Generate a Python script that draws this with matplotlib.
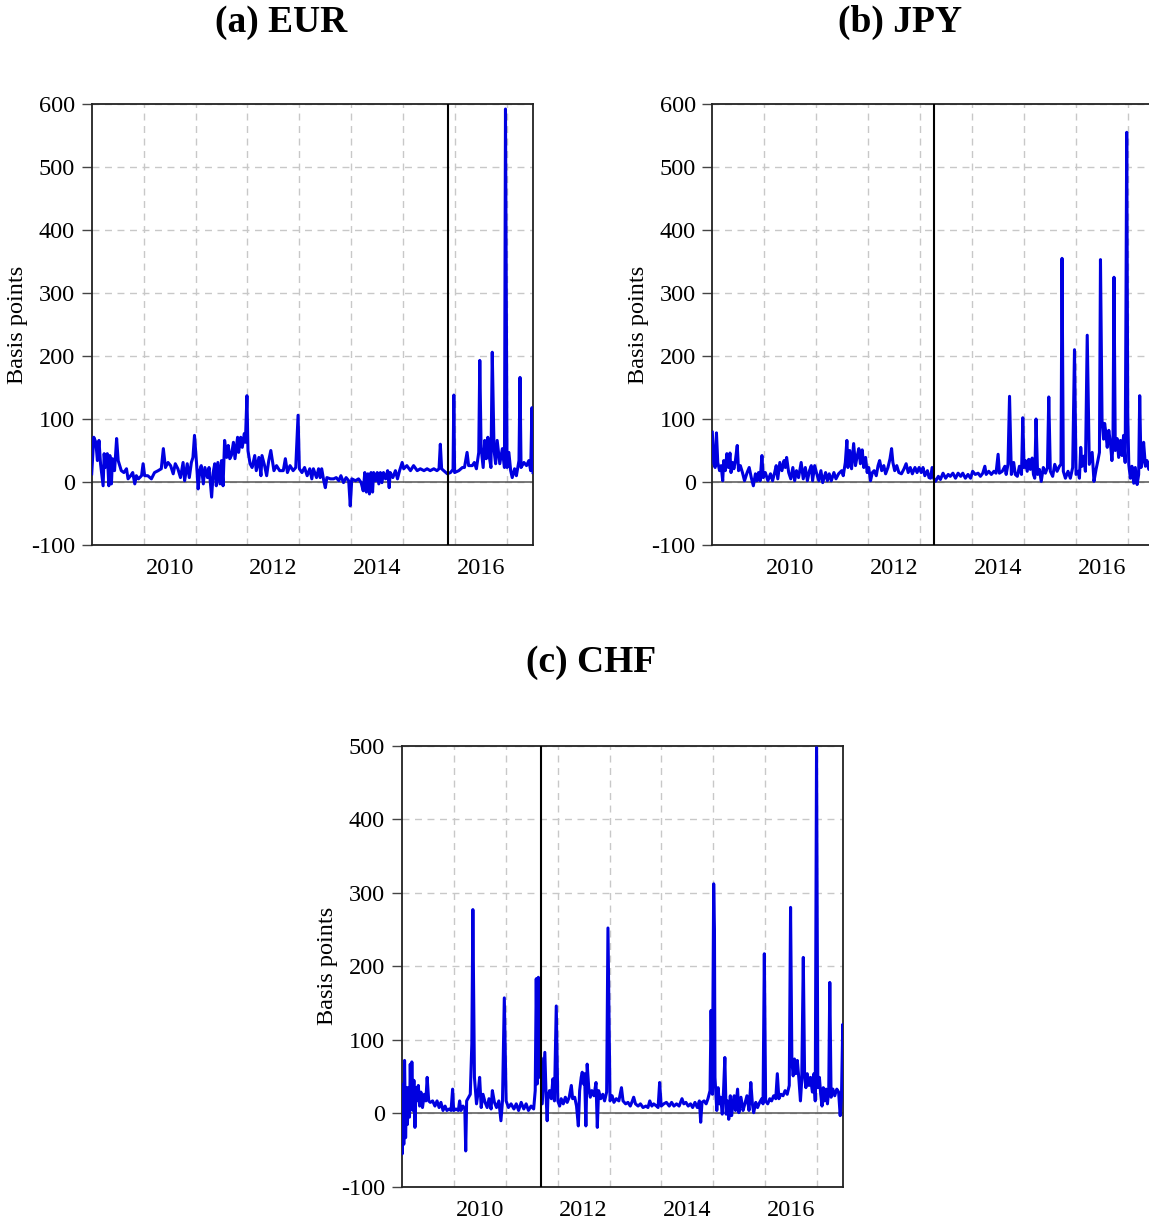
import numpy as np
import matplotlib
matplotlib.use("Agg")
import matplotlib.pyplot as plt
from matplotlib.ticker import FixedLocator, NullFormatter, FixedFormatter

plt.rcParams['font.family'] = ['Liberation Serif', 'DejaVu Serif']
plt.rcParams['axes.unicode_minus'] = False

# cross-currency basis, (decimal year, basis points)
eur = [
    (2009.00, 13), (2009.04, 71), (2009.08, 63), (2009.11, 34), (2009.14, 66), (2009.17, 29),
    (2009.22, -6), (2009.24, 45), (2009.26, 23), (2009.30, 45), (2009.33, -6), (2009.35, 42),
    (2009.38, -3), (2009.40, 37), (2009.44, 18), (2009.48, 69), (2009.51, 34), (2009.54, 26),
    (2009.57, 18), (2009.62, 15), (2009.67, 21), (2009.70, 5), (2009.75, 10), (2009.79, 15),
    (2009.83, -3), (2009.86, 10), (2009.90, 5), (2009.96, 10), (2009.99, 29), (2010.02, 10),
    (2010.08, 10), (2010.15, 5), (2010.21, 15), (2010.28, 18), (2010.34, 21), (2010.38, 53),
    (2010.42, 23), (2010.47, 31), (2010.52, 26), (2010.57, 13), (2010.61, 29), (2010.66, 21),
    (2010.71, 7), (2010.76, 31), (2010.79, 2), (2010.84, 29), (2010.88, 7), (2010.92, 31),
    (2010.95, 39), (2010.98, 74), (2011.02, 29), (2011.05, -11), (2011.08, 18), (2011.11, 26),
    (2011.15, -3), (2011.18, 23), (2011.23, 7), (2011.26, 23), (2011.31, -24), (2011.34, 15),
    (2011.37, 29), (2011.40, -6), (2011.43, 31), (2011.47, -3), (2011.50, 34), (2011.53, -6),
    (2011.56, 66), (2011.60, 39), (2011.63, 58), (2011.66, 37), (2011.69, 42), (2011.73, 63),
    (2011.76, 37), (2011.81, 71), (2011.83, 47), (2011.87, 71), (2011.90, 55), (2011.94, 77),
    (2011.96, 63), (2011.99, 137), (2012.01, 50), (2012.05, 29), (2012.09, 23), (2012.14, 42),
    (2012.17, 18), (2012.22, 39), (2012.26, 10), (2012.28, 42), (2012.33, 26), (2012.37, 10),
    (2012.41, 34), (2012.45, 50), (2012.48, 34), (2012.51, 18), (2012.56, 26), (2012.62, 18),
    (2012.69, 18), (2012.73, 37), (2012.77, 15), (2012.82, 26), (2012.88, 18), (2012.93, 23),
    (2012.975, 106), (2013.00, 21), (2013.05, 15), (2013.10, 23), (2013.15, 10), (2013.20, 21),
    (2013.24, 5), (2013.27, 21), (2013.33, 7), (2013.37, 21), (2013.40, 7), (2013.43, 21),
    (2013.47, 2), (2013.50, -9), (2013.53, 7), (2013.60, 5), (2013.66, 5), (2013.71, 7),
    (2013.76, 2), (2013.80, 10), (2013.85, -1), (2013.90, 7), (2013.95, 2), (2013.98, -38),
    (2014.01, 5), (2014.08, 2), (2014.14, 5), (2014.19, -1), (2014.23, -14), (2014.26, 15),
    (2014.29, -16), (2014.32, 13), (2014.35, -19), (2014.38, 15), (2014.41, -16), (2014.43, 15),
    (2014.47, 2), (2014.50, 15), (2014.53, -3), (2014.56, 15), (2014.59, -1), (2014.62, 15),
    (2014.66, 5), (2014.70, 18), (2014.73, -9), (2014.75, 15), (2014.80, 7), (2014.85, 18),
    (2014.89, 5), (2014.93, 18), (2014.98, 31), (2015.01, 21), (2015.07, 26), (2015.14, 18),
    (2015.20, 26), (2015.27, 18), (2015.33, 21), (2015.40, 18), (2015.46, 21), (2015.52, 18),
    (2015.59, 21), (2015.65, 18), (2015.69, 21), (2015.715, 60), (2015.74, 21), (2015.78, 18),
    (2015.85, 13), (2015.91, 15), (2015.96, 20), (2015.975, 138), (2015.99, 15), (2016.07, 18),
    (2016.14, 23), (2016.18, 23), (2016.23, 47), (2016.26, 26), (2016.33, 26), (2016.37, 31),
    (2016.41, 21), (2016.455, 47), (2016.475, 193), (2016.50, 55), (2016.54, 23), (2016.57, 66),
    (2016.60, 37), (2016.63, 71), (2016.66, 39), (2016.69, 23), (2016.715, 206), (2016.75, 50),
    (2016.78, 29), (2016.81, 66), (2016.86, 29), (2016.91, 53), (2016.95, 23), (2016.97, 592),
    (2017.00, 23), (2017.035, 47), (2017.07, 18), (2017.10, 7), (2017.145, 21), (2017.18, 10),
    (2017.23, 34), (2017.25, 166), (2017.27, 23), (2017.325, 31), (2017.375, 26), (2017.42, 34),
    (2017.455, 18), (2017.48, 118), (2017.50, 15),
]

jpy = [
    (2009.00, 79), (2009.03, 29), (2009.055, 23), (2009.08, 78), (2009.105, 31), (2009.14, 18),
    (2009.17, 26), (2009.20, 2), (2009.22, 34), (2009.25, 18), (2009.28, 45), (2009.31, 23),
    (2009.34, 46), (2009.36, 15), (2009.39, 31), (2009.415, 21), (2009.44, 31), (2009.48, 58),
    (2009.505, 18), (2009.54, 26), (2009.58, 15), (2009.62, 2), (2009.67, 15), (2009.71, 23),
    (2009.75, 7), (2009.79, -6), (2009.83, 13), (2009.86, 2), (2009.89, 15), (2009.92, 2),
    (2009.955, 42), (2009.98, 7), (2010.02, 15), (2010.07, 2), (2010.12, 13), (2010.16, 2),
    (2010.20, 15), (2010.23, 26), (2010.26, 5), (2010.30, 31), (2010.34, 18), (2010.38, 34),
    (2010.405, 23), (2010.43, 39), (2010.47, 15), (2010.51, 5), (2010.55, 23), (2010.585, 2),
    (2010.62, 18), (2010.66, 7), (2010.71, 31), (2010.75, 5), (2010.79, 23), (2010.83, 2),
    (2010.87, 18), (2010.905, 26), (2010.93, 2), (2010.97, 26), (2011.01, 13), (2011.05, 2),
    (2011.09, 18), (2011.125, -1), (2011.18, 15), (2011.215, 2), (2011.25, 13), (2011.29, 2),
    (2011.34, 15), (2011.38, 5), (2011.43, 13), (2011.49, 18), (2011.52, 10), (2011.56, 31),
    (2011.59, 66), (2011.61, 23), (2011.645, 50), (2011.68, 21), (2011.72, 61), (2011.755, 26),
    (2011.79, 42), (2011.82, 53), (2011.85, 29), (2011.885, 51), (2011.915, 23), (2011.95, 39),
    (2011.98, 15), (2012.01, 23), (2012.045, 2), (2012.08, 15), (2012.115, 18), (2012.155, 10),
    (2012.19, 26), (2012.22, 34), (2012.26, 18), (2012.30, 26), (2012.335, 13), (2012.38, 23),
    (2012.42, 37), (2012.45, 53), (2012.475, 31), (2012.51, 18), (2012.55, 26), (2012.59, 15),
    (2012.64, 13), (2012.69, 21), (2012.73, 29), (2012.77, 15), (2012.81, 23), (2012.85, 13),
    (2012.90, 23), (2012.94, 15), (2012.98, 23), (2013.02, 15), (2013.055, 23), (2013.09, 10),
    (2013.14, 18), (2013.17, 7), (2013.20, 6), (2013.23, 23), (2013.26, 6), (2013.295, 1),
    (2013.35, 9), (2013.39, 4), (2013.44, 14), (2013.49, 6), (2013.54, 12), (2013.58, 9),
    (2013.63, 14), (2013.68, 6), (2013.73, 14), (2013.78, 9), (2013.82, 14), (2013.87, 6),
    (2013.92, 12), (2013.97, 6), (2014.01, 17), (2014.06, 12), (2014.115, 14), (2014.16, 9),
    (2014.205, 14), (2014.245, 25), (2014.27, 12), (2014.32, 17), (2014.37, 12), (2014.42, 17),
    (2014.46, 14), (2014.50, 44), (2014.525, 14), (2014.58, 17), (2014.63, 25), (2014.655, 12),
    (2014.69, 28), (2014.72, 136), (2014.755, 12), (2014.80, 31), (2014.83, 12), (2014.87, 9),
    (2014.91, 25), (2014.95, 12), (2014.975, 102), (2015.00, 23), (2015.025, 34), (2015.06, 17),
    (2015.09, 36), (2015.12, 20), (2015.155, 38), (2015.18, 12), (2015.205, 6), (2015.23, 100),
    (2015.26, 12), (2015.295, 20), (2015.33, 1), (2015.37, 23), (2015.41, 14), (2015.45, 23),
    (2015.475, 135), (2015.505, 17), (2015.55, 9), (2015.59, 28), (2015.635, 17), (2015.68, 25),
    (2015.71, 28), (2015.73, 355), (2015.755, 17), (2015.795, 6), (2015.845, 17), (2015.89, 6),
    (2015.935, 23), (2015.97, 210), (2016.00, 12), (2016.04, 17), (2016.065, 6), (2016.09, 55),
    (2016.115, 25), (2016.15, 41), (2016.18, 17), (2016.215, 233), (2016.255, 28), (2016.31, 47),
    (2016.345, 1), (2016.385, 20), (2016.42, 34), (2016.45, 47), (2016.47, 353), (2016.50, 98),
    (2016.53, 68), (2016.55, 93), (2016.575, 77), (2016.60, 55), (2016.63, 82), (2016.66, 63),
    (2016.69, 34), (2016.71, 58), (2016.73, 325), (2016.755, 50), (2016.79, 69), (2016.82, 39),
    (2016.855, 66), (2016.885, 42), (2016.915, 74), (2016.945, 31), (2016.96, 270), (2016.975, 555),
    (2016.995, 105), (2017.015, 28), (2017.045, 6), (2017.075, 25), (2017.11, -2), (2017.14, 23),
    (2017.175, -4), (2017.205, 12), (2017.225, 137), (2017.25, 23), (2017.28, 34), (2017.30, 63),
    (2017.335, 25), (2017.365, 34), (2017.40, 20), (2017.45, 28), (2017.50, 22),
]

chf = [
    (2009.00, 35), (2009.01, -55), (2009.03, 40), (2009.04, -42), (2009.055, 72), (2009.075, -33),
    (2009.095, 35), (2009.11, -15), (2009.13, 35), (2009.15, -5), (2009.165, 67), (2009.18, 8),
    (2009.195, 70), (2009.215, 4), (2009.235, 45), (2009.255, -19), (2009.275, 35), (2009.29, 17),
    (2009.32, 38), (2009.345, 10), (2009.37, 29), (2009.40, 8), (2009.435, 26), (2009.465, 17),
    (2009.49, 49), (2009.52, 17), (2009.55, 15), (2009.595, 17), (2009.64, 10), (2009.68, 17),
    (2009.72, 8), (2009.755, 15), (2009.795, 4), (2009.835, 10), (2009.87, 4), (2009.915, 6),
    (2009.95, 4), (2009.98, 33), (2010.00, 4), (2010.045, 6), (2010.09, 4), (2010.115, 17),
    (2010.14, 4), (2010.18, 10), (2010.215, 6), (2010.232, -51), (2010.25, 17), (2010.29, 22),
    (2010.32, 26), (2010.35, 95), (2010.37, 277), (2010.40, 49), (2010.44, 13), (2010.475, 31),
    (2010.50, 49), (2010.53, 8), (2010.565, 26), (2010.605, 15), (2010.645, 8), (2010.68, 20),
    (2010.72, 6), (2010.745, 31), (2010.785, 15), (2010.825, 8), (2010.87, 17), (2010.91, -10),
    (2010.94, 17), (2010.975, 157), (2011.01, 17), (2011.055, 8), (2011.105, 13), (2011.16, 6),
    (2011.205, 13), (2011.25, 4), (2011.30, 15), (2011.35, 6), (2011.395, 13), (2011.44, 4),
    (2011.49, 10), (2011.54, 6), (2011.57, 31), (2011.59, 183), (2011.61, 40), (2011.63, 185),
    (2011.66, 49), (2011.68, 76), (2011.705, 13), (2011.73, 49), (2011.755, 83), (2011.78, 22),
    (2011.80, -10), (2011.815, 22), (2011.845, 31), (2011.88, 20), (2011.91, 47), (2011.94, 17),
    (2011.975, 146), (2012.005, 17), (2012.04, 10), (2012.07, 20), (2012.11, 13), (2012.15, 22),
    (2012.185, 15), (2012.225, 22), (2012.265, 38), (2012.29, 20), (2012.33, 22), (2012.365, 10),
    (2012.40, -17), (2012.425, 31), (2012.455, 49), (2012.475, 56), (2012.50, 40), (2012.52, 54),
    (2012.545, -17), (2012.57, 67), (2012.60, 35), (2012.63, 22), (2012.66, 31), (2012.70, 24),
    (2012.74, 42), (2012.765, -19), (2012.79, 31), (2012.83, 20), (2012.87, 26), (2012.905, 17),
    (2012.945, 29), (2012.97, 252), (2013.01, 17), (2013.05, 24), (2013.085, 15), (2013.13, 20),
    (2013.18, 17), (2013.23, 35), (2013.26, 17), (2013.31, 13), (2013.355, 15), (2013.40, 10),
    (2013.44, 17), (2013.465, 22), (2013.50, 13), (2013.55, 10), (2013.595, 13), (2013.645, 8),
    (2013.70, 10), (2013.74, 8), (2013.775, 17), (2013.815, 10), (2013.85, 13), (2013.905, 10),
    (2013.935, 8), (2013.965, 42), (2013.995, 10), (2014.045, 13), (2014.095, 15), (2014.15, 10),
    (2014.195, 15), (2014.24, 10), (2014.29, 13), (2014.34, 10), (2014.395, 20), (2014.43, 13),
    (2014.47, 15), (2014.515, 10), (2014.56, 13), (2014.60, 8), (2014.645, 15), (2014.69, 8),
    (2014.73, 17), (2014.755, -12), (2014.78, 15), (2014.82, 17), (2014.86, 13), (2014.895, 20),
    (2014.935, 31), (2014.955, 140), (2014.98, 26), (2015.005, 312), (2015.02, 250), (2015.03, 49),
    (2015.065, 4), (2015.09, 35), (2015.115, 13), (2015.14, 22), (2015.17, -1), (2015.195, 31),
    (2015.22, 76), (2015.245, -1), (2015.27, 17), (2015.295, -8), (2015.325, 24), (2015.35, -3),
    (2015.375, 13), (2015.40, 24), (2015.425, 4), (2015.465, 33), (2015.49, 1), (2015.53, 22),
    (2015.57, 4), (2015.605, 13), (2015.645, 24), (2015.685, 4), (2015.72, 42), (2015.75, 13),
    (2015.775, 1), (2015.815, 15), (2015.85, 8), (2015.89, 15), (2015.93, 20), (2015.955, 13),
    (2015.98, 217), (2016.005, 17), (2016.045, 13), (2016.085, 20), (2016.12, 17), (2016.16, 24),
    (2016.20, 20), (2016.23, 54), (2016.26, 20), (2016.30, 26), (2016.34, 24), (2016.38, 31),
    (2016.42, 26), (2016.46, 38), (2016.485, 280), (2016.51, 72), (2016.535, 51), (2016.56, 74),
    (2016.585, 54), (2016.615, 72), (2016.645, 47), (2016.675, 17), (2016.70, 45), (2016.73, 212),
    (2016.755, 51), (2016.78, 35), (2016.805, 54), (2016.84, 38), (2016.87, 49), (2016.905, 29),
    (2016.935, 54), (2016.96, 17), (2016.985, 497), (2017.01, 35), (2017.04, 49), (2017.065, 26),
    (2017.09, 10), (2017.115, 35), (2017.14, 17), (2017.17, 33), (2017.195, 13), (2017.22, 33),
    (2017.24, 178), (2017.265, 22), (2017.30, 33), (2017.335, 24), (2017.375, 33), (2017.41, 29),
    (2017.44, -3), (2017.465, 22), (2017.49, 121), (2017.50, 31),
]

# policy dates marked with a vertical line
eur_event = 2015.86
jpy_event = 2013.27
chf_event = 2011.69

year_grid = list(range(2010, 2018))
year_labels = ['2010', '2012', '2014', '2016']
W, H = 1149, 1220


def panel(rect, series, event, ymax, title, title_x, title_y):
    ax = fig.add_axes([rect[0] / W, 1 - rect[3] / H,
                       (rect[2] - rect[0]) / W, (rect[3] - rect[1]) / H])
    t, v = np.array(series, dtype=float).T
    ax.plot(t, v, color='#0000e0', lw=2.2, zorder=3)
    ax.axhline(0, color='#555555', lw=1.1, zorder=2)
    ax.axvline(event, color='black', lw=1.5, zorder=4)
    ax.set_xlim(2009.0, 2017.5)
    ax.set_ylim(-100, ymax)

    ax.xaxis.set_major_locator(FixedLocator(year_grid))
    ax.xaxis.set_major_formatter(NullFormatter())
    ax.xaxis.set_minor_locator(FixedLocator([int(y) + 0.5 for y in year_labels]))
    ax.xaxis.set_minor_formatter(FixedFormatter(year_labels))
    ax.tick_params(axis='x', which='major', length=0)
    ax.tick_params(axis='x', which='minor', length=0, pad=9, labelsize=17.5)
    yt = list(range(-100, ymax + 1, 100))
    ax.set_yticks(yt)
    ax.set_yticklabels([str(y) for y in yt])
    ax.tick_params(axis='y', length=7, width=1.0, color='#444444', pad=5, labelsize=17.5)

    ax.grid(True, which='major', color='#c8c8c8', lw=1.0, ls=(0, (5, 4)), zorder=1)
    for s in ax.spines.values():
        s.set_linewidth(1.3)
        s.set_color('#222222')

    fig.text((rect[0] - 73.7) / W, 1 - (rect[1] + rect[3]) / 2 / H, 'Basis points',
             rotation=90, ha='center', va='center', fontsize=17.5)
    fig.text(title_x / W, 1 - title_y / H, title, ha='center', va='center',
             fontsize=27, fontweight='bold')
    return ax


fig = plt.figure(figsize=(W / 100, H / 100), dpi=100)
panel((91.7, 104, 533, 545), eur, eur_event, 600, '(a) EUR', 281, 22)
panel((712.3, 104, 1154, 545), jpy, jpy_event, 600, '(b) JPY', 900, 22)
panel((401.7, 745.5, 843.3, 1187), chf, chf_event, 500, '(c) CHF', 591, 663)

fig.savefig('out.png', dpi=100)
